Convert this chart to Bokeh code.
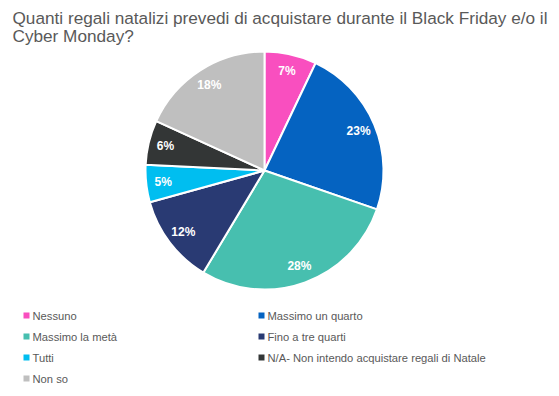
import math
from bokeh.plotting import figure
from bokeh.models import ColumnDataSource, Range1d
from bokeh.core.properties import value
from bokeh.embed import file_html
from bokeh.resources import INLINE

title_lines = ["Quanti regali natalizi prevedi di acquistare durante il Black Friday e/o il",
               "Cyber Monday?"]
categories = ["Nessuno", "Massimo un quarto", "Massimo la metà", "Fino a tre quarti",
              "Tutti", "N/A- Non intendo acquistare regali di Natale", "Non so"]
values = [7, 23, 28, 12, 5, 6, 18]
colors = ["#F94FBF", "#0563C1", "#47BFAF", "#293A73", "#00BEF0", "#333636", "#BFBFBF"]

W, H = 559, 396
FONT = "Liberation Sans"
p = figure(width=W, height=H, x_range=Range1d(0, W), y_range=Range1d(0, H),
           output_backend="svg", toolbar_location=None, min_border=0)
p.axis.visible = False
p.grid.visible = False
p.outline_line_color = None

def py(page_y):
    return H - page_y

cx, cy, R = 264, py(170), 119
total = sum(values)
starts, ends, lx, ly, labels = [], [], [], [], []
cum = 0.0
for v in values:
    a0 = math.pi / 2 - 2 * math.pi * cum / total
    cum += v
    a1 = math.pi / 2 - 2 * math.pi * cum / total
    starts.append(a0)
    ends.append(a1)
    mid = (a0 + a1) / 2
    lx.append(cx + 102 * math.cos(mid))
    ly.append(cy + 102 * math.sin(mid))
    labels.append(f"{v}%")

src = ColumnDataSource(dict(start=starts, end=ends, color=colors))
p.wedge(x=cx, y=cy, radius=R, start_angle="start", end_angle="end", direction="clock",
        fill_color="color", line_color="white", line_width=2, source=src)

p.text(x=lx, y=ly, text=labels, text_color="white", text_font=value(FONT),
       text_font_size="12px", text_font_style="bold", text_align="center",
       text_baseline="middle")

# title
p.text(x=[12, 12], y=[py(17), py(35)], text=title_lines, text_color="#595959",
       text_font=value(FONT), text_font_size="17.2px", text_baseline="alphabetic")

# legend
col_sq = [26, 261]
col_tx = [32, 267]
row_y = [315, 336, 357, 378]
sqx, sqy, tx, ty = [], [], [], []
for i, c in enumerate(categories):
    col, row = i % 2, i // 2
    sqx.append(col_sq[col])
    sqy.append(py(row_y[row]))
    tx.append(col_tx[col])
    ty.append(py(row_y[row]))
p.rect(x=sqx, y=sqy, width=6, height=6, fill_color=colors, line_color=None)
p.text(x=tx, y=ty, text=categories, text_color="#595959", text_font=value(FONT),
       text_font_size="11.2px", text_baseline="middle")

open("out.html", "w").write(file_html(p, INLINE))
